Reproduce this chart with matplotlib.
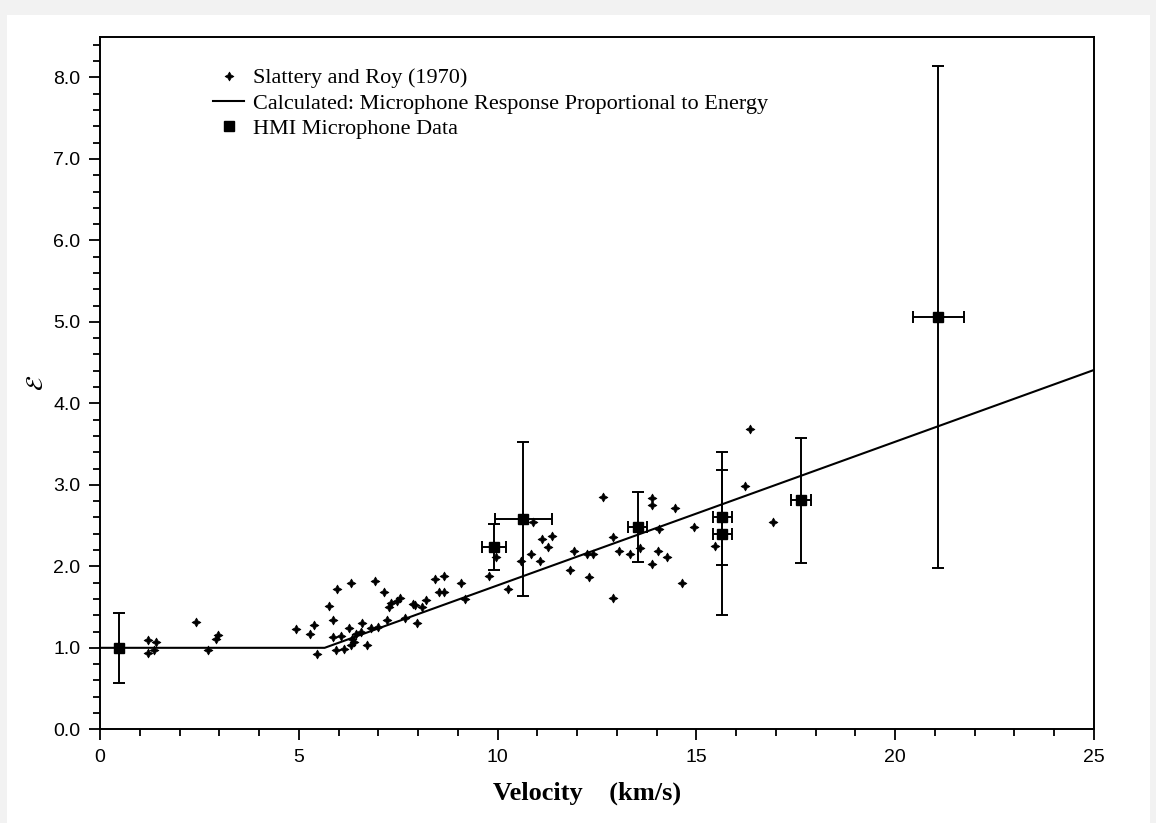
import matplotlib
matplotlib.use("Agg")
import matplotlib.pyplot as plt
from matplotlib.lines import Line2D
from matplotlib.patches import Rectangle
from matplotlib.ticker import MultipleLocator, FormatStrFormatter

# Slattery and Roy (1970) points: velocity (km/s), E
sr_v = [1.21, 1.21, 1.41, 1.36, 2.41, 2.71, 2.91, 2.97, 4.94, 5.28,
        5.38, 5.45, 5.76, 5.85, 5.95, 6.31, 5.85, 6.06, 5.93, 6.14,
        6.26, 6.35, 6.31, 6.43, 6.39, 6.60, 6.56, 6.71, 6.81, 6.91,
        6.98, 7.14, 7.27, 7.31, 7.48, 7.55, 7.23, 7.66, 7.86, 7.91,
        7.98, 8.11, 8.19, 8.42, 8.64, 8.53, 8.65, 9.07, 9.17, 9.78,
        10.27, 9.97, 10.58, 10.85, 10.90, 11.06, 11.12, 11.26, 11.37, 11.82,
        11.92, 12.25, 12.40, 12.29, 12.66, 12.90, 12.90, 13.05, 13.34, 13.59,
        13.89, 13.89, 14.05, 14.03, 13.89, 14.25, 14.45, 14.64, 14.93, 15.48,
        16.21, 16.34, 16.93]
sr_e = [1.09, 0.94, 1.07, 0.97, 1.32, 0.97, 1.11, 1.16, 1.23, 1.17,
        1.28, 0.92, 1.51, 1.34, 1.72, 1.80, 1.13, 1.15, 0.97, 0.99,
        1.24, 1.11, 1.03, 1.17, 1.07, 1.30, 1.19, 1.04, 1.24, 1.82,
        1.25, 1.69, 1.50, 1.55, 1.57, 1.61, 1.34, 1.36, 1.54, 1.52,
        1.30, 1.50, 1.59, 1.85, 1.88, 1.69, 1.69, 1.80, 1.60, 1.88,
        1.72, 2.12, 2.07, 2.15, 2.54, 2.07, 2.34, 2.24, 2.37, 1.95,
        2.19, 2.15, 2.15, 1.87, 2.85, 1.61, 2.36, 2.19, 2.15, 2.22,
        2.84, 2.75, 2.46, 2.19, 2.03, 2.12, 2.72, 1.80, 2.48, 2.25,
        2.99, 3.69, 2.54]

# calculated curve
calc_v = [0.0, 5.65, 25.0]
calc_e = [1.0, 1.0, 4.41]

# HMI microphone data
hmi_v = [0.48, 9.92, 10.65, 13.52, 15.65, 15.65, 17.64, 21.08]
hmi_e = [1.00, 2.24, 2.58, 2.48, 2.60, 2.40, 2.81, 5.06]
hmi_xerr = [0.0, 0.30, 0.72, 0.25, 0.24, 0.24, 0.25, 0.64]
hmi_yerr = [0.43, 0.28, 0.95, 0.43, 0.58, 1.00, 0.77, 3.08]

sr_marker = (4, 1, 0)

fig = plt.figure(figsize=(11.56, 8.23), dpi=100)
fig.patch.set_facecolor('#f2f2f2')
fig.patches.append(Rectangle((7/1156, 0), (1150-7)/1156, 1-15/823,
                             transform=fig.transFigure, facecolor='white',
                             edgecolor='none', zorder=-10))

ax = fig.add_axes([100/1156, 1-729.3/823, 994/1156, 692.6/823])

ax.plot(calc_v, calc_e, color='black', lw=1.5, zorder=2)
ax.plot(sr_v, sr_e, linestyle='none', marker=sr_marker, ms=6.5, mew=0.5,
        color='black', zorder=3)
ax.errorbar(hmi_v, hmi_e, xerr=hmi_xerr, yerr=hmi_yerr, fmt='s', ms=7,
            color='black', ecolor='black', elinewidth=1.4, capsize=4,
            capthick=1.4, zorder=4)

ax.set_xlim(0, 25)
ax.set_ylim(0, 8.5)
ax.xaxis.set_major_locator(MultipleLocator(5))
ax.xaxis.set_minor_locator(MultipleLocator(1))
ax.yaxis.set_major_locator(MultipleLocator(1))
ax.yaxis.set_minor_locator(MultipleLocator(0.2))
ax.yaxis.set_major_formatter(FormatStrFormatter('%.1f'))

ax.tick_params(which='both', direction='out', width=1.3, color='black')
ax.tick_params(which='major', length=8, labelsize=14, pad=6)
ax.tick_params(which='minor', length=5)
for lab in ax.get_xticklabels() + ax.get_yticklabels():
    lab.set_fontfamily('Liberation Sans')
for sp in ax.spines.values():
    sp.set_linewidth(1.4)

ax.set_xlabel('Velocity    (km/s)', fontfamily='Liberation Serif',
              fontweight='bold', fontsize=19)
ax.xaxis.set_label_coords(0.49, -0.075)
ax.set_ylabel(r'$\mathcal{E}$', fontsize=17)
ax.yaxis.set_label_coords(-0.052, 0.5)

handles = [
    Line2D([], [], linestyle='none', marker=sr_marker, ms=6.5, mew=0.5,
           color='black'),
    Line2D([], [], color='black', lw=1.5),
    Line2D([], [], linestyle='none', marker='s', ms=7, color='black'),
]
labels = ['Slattery and Roy (1970)',
          'Calculated: Microphone Response Proportional to Energy',
          'HMI Microphone Data']
ax.legend(handles, labels, loc='upper left', bbox_to_anchor=(0.105, 0.968),
          frameon=False, prop={'family': 'Liberation Serif', 'size': 16},
          handlelength=1.4, handletextpad=0.4, labelspacing=0.22,
          borderaxespad=0)

fig.savefig('out.png', dpi=100, facecolor=fig.get_facecolor())
